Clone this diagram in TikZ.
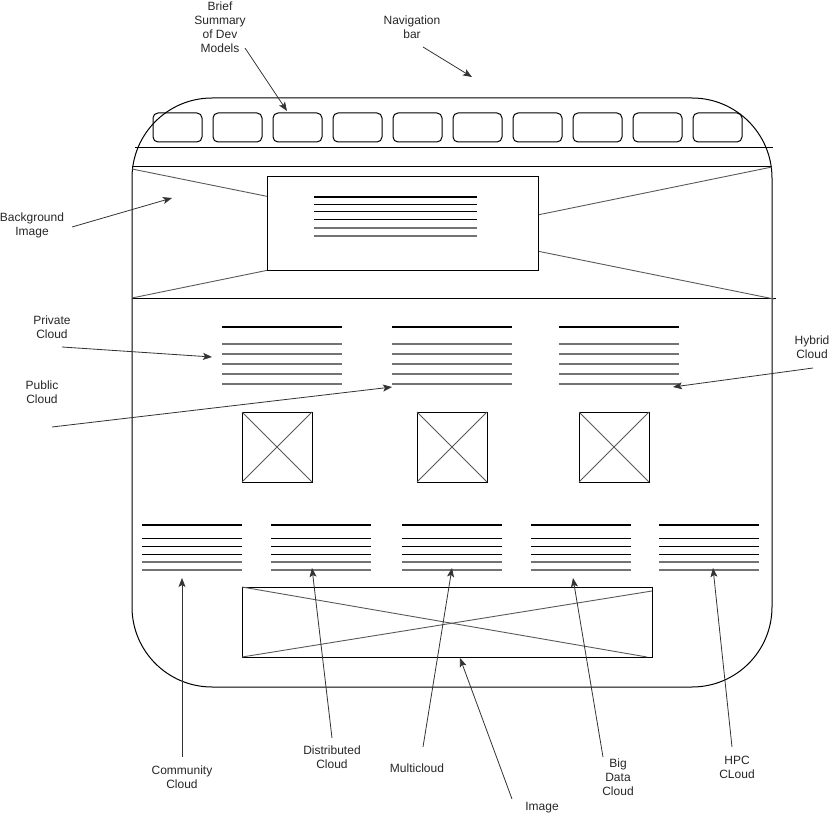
\documentclass[tikz,border=0pt]{standalone}
\usepackage{fontspec}
\setmainfont{Liberation Sans}
\usetikzlibrary{arrows.meta}
\begin{document}
\begin{tikzpicture}[x=1pt,y=-1pt,
  lbl/.style={align=center,font=\fontsize{12}{14}\selectfont,inner sep=0pt,text=black!85},
  callout/.style={draw=black!80,line width=0.8pt,-{Stealth[length=9pt,width=7pt,inset=2pt]}},
  frame/.style={draw=black,line width=1pt},
  navbtn/.style={draw=black,line width=1pt,rounded corners=5pt},
  headline/.style={draw=black,line width=2pt},
  bodyline/.style={draw=black,line width=1pt},
  greyline/.style={draw=black!55,line width=1.5pt},
  diag/.style={draw=black!65,line width=0.9pt}]
\useasboundingbox (0,0) rectangle (833,818);
% outer page frame
\draw[frame,rounded corners=80pt] (132,98) rectangle (772,687);
% navigation bar
\draw[frame] (135,148) -- (773,148);
\foreach \i in {0,...,9}{
  \draw[navbtn] ({153+60*\i},113) rectangle ({202+60*\i},142);
}
% hero background image
\draw[frame] (132,167) -- (772,167);
\draw[frame] (132,299) -- (776,299);
\draw[diag] (132,169) -- (774,299);
\draw[diag] (132,298) -- (772,167);
\draw[frame,fill=white] (267,177) rectangle (538,271);
\draw[headline] (314,197) -- (477,197);
\foreach \y in {205,212,220}{\draw[bodyline] (314,\y) -- (477,\y);}
\foreach \y in {228,236}{\draw[greyline] (314,\y) -- (477,\y);}
% three text blocks
\foreach \x in {222,392,559}{
  \draw[headline] (\x,327) -- (\x+120,327);
  \foreach \y in {344,354,364,374,384}{\draw[greyline] (\x,\y) -- (\x+120,\y);}
}
% three image placeholders
\foreach \x in {242,417,579}{
  \draw[frame] (\x,412) rectangle (\x+70,482);
  \draw[diag] (\x,412) -- (\x+70,482);
  \draw[diag] (\x,482) -- (\x+70,412);
}
% five text blocks
\foreach \x in {142,271,402,531,659}{
  \draw[headline] (\x,525) -- (\x+100,525);
  \foreach \y in {538,546,554}{\draw[bodyline] (\x,\y) -- (\x+100,\y);}
  \foreach \y in {562,570}{\draw[greyline] (\x,\y) -- (\x+100,\y);}
}
% bottom image
\draw[frame] (242,587) rectangle (652,657);
\draw[diag] (242,587) -- (647,657);
\draw[diag] (242,657) -- (652,591);
% labels
\node[lbl] (brief) at (220,27.5) {Brief\\Summary\\of Dev\\Models};
\node[lbl] (nav) at (412,27.5) {Navigation\\bar};
\node[lbl] (bg) at (32,225.5) {Background\\Image};
\node[lbl] (priv) at (52,327.5) {Private\\Cloud};
\node[lbl] (pub) at (42,392.5) {Public\\Cloud};
\node[lbl] (hyb) at (812,347.5) {Hybrid\\Cloud};
\node[lbl] (comm) at (182,777.5) {Community\\Cloud};
\node[lbl] (dist) at (332,757.5) {Distributed\\Cloud};
\node[lbl] (multi) at (417,768) {Multicloud};
\node[lbl] (img) at (542,808) {Image};
\node[lbl] (big) at (618,777.5) {Big\\Data\\Cloud};
\node[lbl] (hpc) at (737,767.5) {HPC\\CLoud};
% connector end points
\coordinate (briefS) at (245,48);   \coordinate (briefT) at (287,111);
\coordinate (navS) at (423,47);     \coordinate (navT) at (472,77);
\coordinate (bgS) at (72,227);      \coordinate (bgT) at (172,198);
\coordinate (privS) at (62,347);    \coordinate (privT) at (212,357);
\coordinate (pubS) at (52,427);     \coordinate (pubT) at (392,387);
\coordinate (hybS) at (813,368);    \coordinate (hybT) at (673,387);
\coordinate (commS) at (182,757);   \coordinate (commT) at (182,578);
\coordinate (distS) at (332,738);   \coordinate (distT) at (312,568);
\coordinate (multiS) at (423,747);  \coordinate (multiT) at (452,568);
\coordinate (imgS) at (512,799);    \coordinate (imgT) at (460,658);
\coordinate (bigS) at (603,757);    \coordinate (bigT) at (573,578);
\coordinate (hpcS) at (732,747);    \coordinate (hpcT) at (713,568);
\foreach \n in {brief,nav,bg,priv,pub,hyb,comm,dist,multi,img,big,hpc}{
  \draw[callout] (\n S) -- (\n T);
}
\end{tikzpicture}
\end{document}
